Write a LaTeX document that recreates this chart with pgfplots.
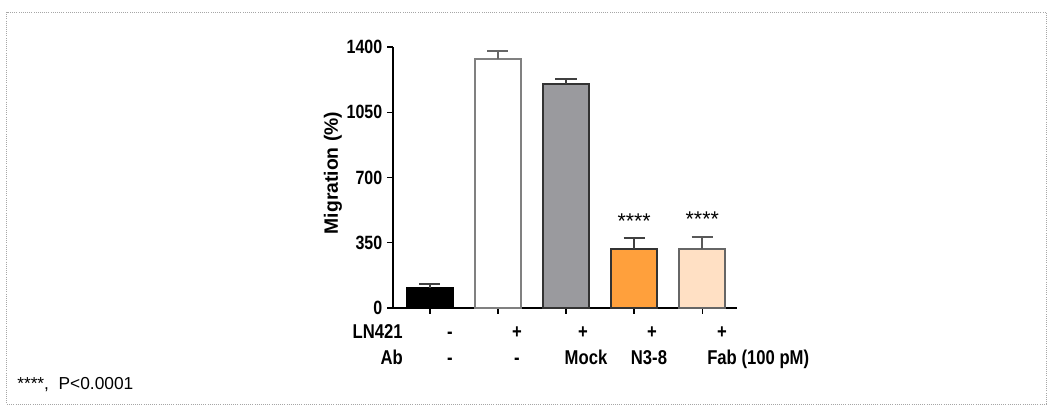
\documentclass[border=0pt]{standalone}
\usepackage{fontspec}
\setmainfont{Liberation Sans}
\usepackage{pgfplots}
\pgfplotsset{compat=1.18}
\definecolor{barorange}{HTML}{FFA03C}
\definecolor{barpeach}{HTML}{FFE0C4}
\definecolor{bargray}{HTML}{9A9A9E}
\newcommand{\PX}[2]{({(#1)*0.75pt},{(406-#2)*0.75pt})}
\begin{document}
\begin{tikzpicture}
\useasboundingbox (0,0) rectangle (795pt,304.5pt);
\draw[gray!70, densely dotted, line width=0.6pt] \PX{6.5}{12} rectangle \PX{1046}{404};
\begin{axis}[
  at={(294.75pt,73.5pt)}, anchor=south west,
  scale only axis, width=258pt, height=195.75pt,
  xmin=-0.54, xmax=4.51, ymin=0, ymax=1400,
  axis lines*=left,
  axis line style={line width=1.1pt},
  ytick={0,350,700,1050,1400},
  xtick={0,1,2,3,4}, xticklabels={},
  tick style={line width=1.1pt, black},
  tick align=outside, major tick length=4.5pt,
  ticklabel style={font=\fontsize{12}{13}\selectfont\bfseries, yscale=1.2},
  /pgf/number format/assume math mode=true,
  /pgf/number format/1000 sep={},
  ybar, bar width=34.5pt, bar shift=0pt,
  clip=false,
  error bars/y dir=plus, error bars/y explicit,
]
\addplot[fill=black, draw=black, line width=1.2pt,
  error bars/error bar style={line width=1.5pt, color=black!75},
  error bars/error mark options={rotate=90, line width=1.5pt, mark size=7.9pt, color=black!75}]
  coordinates {(0,107) +- (0,20)};
\addplot[fill=white, draw=black!50, line width=1.2pt,
  error bars/error bar style={line width=1.5pt, color=black!60},
  error bars/error mark options={rotate=90, line width=1.5pt, mark size=7.9pt, color=black!60}]
  coordinates {(1,1335) +- (0,42)};
\addplot[fill=bargray, draw=black!80, line width=1.2pt,
  error bars/error bar style={line width=1.5pt, color=black!75},
  error bars/error mark options={rotate=90, line width=1.5pt, mark size=7.9pt, color=black!75}]
  coordinates {(2,1200) +- (0,30)};
\addplot[fill=barorange, draw=black!80, line width=1.2pt,
  error bars/error bar style={line width=1.5pt, color=black!75},
  error bars/error mark options={rotate=90, line width=1.5pt, mark size=7.9pt, color=black!75}]
  coordinates {(3,316) +- (0,58)};
\addplot[fill=barpeach, draw=black!60, line width=1.2pt,
  error bars/error bar style={line width=1.5pt, color=black!65},
  error bars/error mark options={rotate=90, line width=1.5pt, mark size=7.9pt, color=black!65}]
  coordinates {(4,316) +- (0,65)};
\node[anchor=base, font=\fontsize{16}{18}\selectfont, inner sep=0pt] at (axis cs:3,426) {****};
\node[anchor=base, font=\fontsize{16}{18}\selectfont, inner sep=0pt] at (axis cs:4,437) {****};
\end{axis}
\node[rotate=90, font=\fontsize{14.5}{16}\selectfont\bfseries] at \PX{333}{173} {Migration (\%)};
\begin{scope}[every node/.style={font=\fontsize{12.5}{14}\selectfont\bfseries, inner sep=0pt, yscale=1.2}]
\node[anchor=base east] at \PX{403}{339} {LN421};
\node[anchor=base] at \PX{450}{339} {-};
\node[anchor=base] at \PX{517}{339} {+};
\node[anchor=base] at \PX{583}{339} {+};
\node[anchor=base] at \PX{652}{339} {+};
\node[anchor=base] at \PX{722}{339} {+};
\node[anchor=base east] at \PX{403}{365} {Ab};
\node[anchor=base] at \PX{450}{365} {-};
\node[anchor=base] at \PX{517}{365} {-};
\node[anchor=base] at \PX{586}{365} {Mock};
\node[anchor=base] at \PX{649}{365} {N3-8};
\node[anchor=base west] at \PX{707}{365} {Fab (100 pM)};
\end{scope}
\node[anchor=west, inner sep=0pt, font=\fontsize{13}{15}\selectfont] at \PX{17}{385} {****,~~P<0.0001};
\end{tikzpicture}
\end{document}
